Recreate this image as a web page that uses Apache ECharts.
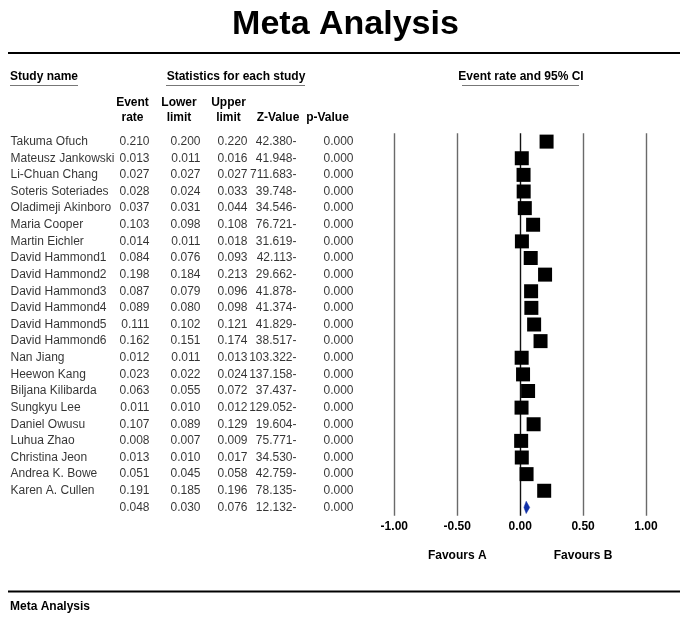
<!DOCTYPE html>
<html>
<head>
<meta charset="utf-8">
<script src="https://cdn.jsdelivr.net/npm/echarts@6/dist/echarts.min.js"></script>
<style>
html,body{margin:0;padding:0;background:#fff;}
#chart{width:688px;height:629px;}
</style>
</head>
<body>
<div id="chart"></div>
<script>
// ---- data ----
const studies = ["Takuma Ofuch","Mateusz Jankowski","Li-Chuan Chang","Soteris Soteriades","Oladimeji Akinboro","Maria Cooper","Martin Eichler","David Hammond1","David Hammond2","David Hammond3","David Hammond4","David Hammond5","David Hammond6","Nan Jiang","Heewon Kang","Biljana Kilibarda","Sungkyu Lee","Daniel Owusu","Luhua Zhao","Christina Jeon","Andrea K. Bowe","Karen A. Cullen"];
const eventRate = [0.210,0.013,0.027,0.028,0.037,0.103,0.014,0.084,0.198,0.087,0.089,0.111,0.162,0.012,0.023,0.063,0.011,0.107,0.008,0.013,0.051,0.191];
const lowerLimit = [0.200,0.011,0.027,0.024,0.031,0.098,0.011,0.076,0.184,0.079,0.080,0.102,0.151,0.011,0.022,0.055,0.010,0.089,0.007,0.010,0.045,0.185];
const upperLimit = [0.220,0.016,0.027,0.033,0.044,0.108,0.018,0.093,0.213,0.096,0.098,0.121,0.174,0.013,0.024,0.072,0.012,0.129,0.009,0.017,0.058,0.196];
const zValue = ["42.380-","41.948-","711.683-","39.748-","34.546-","76.721-","31.619-","42.113-","29.662-","41.878-","41.374-","41.829-","38.517-","103.322-","137.158-","37.437-","129.052-","19.604-","75.771-","34.530-","42.759-","78.135-"];
const pValue = ["0.000","0.000","0.000","0.000","0.000","0.000","0.000","0.000","0.000","0.000","0.000","0.000","0.000","0.000","0.000","0.000","0.000","0.000","0.000","0.000","0.000","0.000"];
const summaryRate = [0.048];
const summaryLower = [0.030];
const summaryUpper = [0.076];
const summaryZ = ["12.132-"];
const summaryP = ["0.000"];
const xTicks = [-1, -0.5, 0, 0.5, 1];
const favourLabels = ["Favours A", "Favours B"];
const favourAt = [-0.5, 0.5];
const titleText = "Meta Analysis";

// ---- layout/style ----
const FONT = "'Liberation Sans', Arial, Helvetica, sans-serif";
const rows = studies.concat([""]);
const summaryIdx = studies.length;
const gridTop = 133.3, gridH = 382.4;
const colName = 10, colRate = 150, colLower = 201, colUpper = 248, colZ = 297, colP = 354;

const chart = echarts.init(document.getElementById('chart'), null, {renderer: 'canvas'});

function textCol(name, x, values, summaryVals, align) {
  const data = values.map((v, i) => ({value: [x, i], txt: v}));
  if (summaryVals) data.push({value: [x, summaryIdx], txt: summaryVals[0]});
  return {
    type: 'scatter', name: name, xAxisIndex: 0, yAxisIndex: 0,
    symbolSize: 1, itemStyle: {color: 'transparent'}, silent: true,
    data: data,
    label: {
      show: true, position: align === 'left' ? 'right' : 'left', distance: 0,
      color: '#000', fontFamily: FONT, fontSize: 12,
      formatter: p => p.data.txt
    }
  };
}
const fmt3 = v => v.toFixed(3);

const headerStyle = {fontFamily: FONT, fontSize: 12, fontWeight: 'bold', fill: '#000'};

const option = {
  backgroundColor: '#fff',
  animation: false,
  grid: [
    {left: 0, width: 380, top: gridTop, height: gridH},
    {left: 394.3, width: 251.7, top: gridTop, height: gridH}
  ],
  xAxis: [
    {gridIndex: 0, type: 'value', min: 0, max: 380, show: false},
    {gridIndex: 1, type: 'value', min: xTicks[0], max: xTicks[xTicks.length - 1], interval: 0.5,
     axisLine: {show: false}, axisTick: {show: false},
     axisLabel: {fontFamily: FONT, fontSize: 12, fontWeight: 'bold', color: '#000', margin: 5,
                 formatter: v => v.toFixed(2)},
     splitLine: {show: true, lineStyle: {width: 1.4, color: ['#6a6a6a','#6a6a6a','#111','#6a6a6a','#6a6a6a']}}}
  ],
  yAxis: [
    {gridIndex: 0, type: 'category', data: rows, inverse: true, show: false},
    {gridIndex: 1, type: 'category', data: rows, inverse: true, show: false}
  ],
  series: [
    textCol('name', colName, studies, null, 'left'),
    textCol('rate', colRate, eventRate.map(fmt3), summaryRate.map(fmt3)),
    textCol('lower', colLower, lowerLimit.map(fmt3), summaryLower.map(fmt3)),
    textCol('upper', colUpper, upperLimit.map(fmt3), summaryUpper.map(fmt3)),
    textCol('z', colZ, zValue, summaryZ),
    textCol('p', colP, pValue, summaryP),
    {
      type: 'custom', name: 'ci', xAxisIndex: 1, yAxisIndex: 1, silent: true,
      data: studies.map((s, i) => [lowerLimit[i], upperLimit[i], i]),
      renderItem: (params, api) => {
        const a = api.coord([api.value(0), api.value(2)]);
        const b = api.coord([api.value(1), api.value(2)]);
        return {type: 'line', shape: {x1: a[0], y1: a[1], x2: b[0], y2: b[1]}, style: {stroke: '#000', lineWidth: 1}};
      },
      z: 3
    },
    {
      type: 'scatter', name: 'rate', xAxisIndex: 1, yAxisIndex: 1, silent: true,
      symbol: 'rect', symbolSize: 14, itemStyle: {color: '#000', opacity: 1},
      data: eventRate.map((v, i) => [v, i]), z: 4
    },
    {
      type: 'custom', name: 'summary', xAxisIndex: 1, yAxisIndex: 1, silent: true,
      data: summaryRate.map((v, i) => [summaryLower[i], v, summaryUpper[i], summaryIdx]),
      renderItem: (params, api) => {
        const l = api.coord([api.value(0), api.value(3)]);
        const m = api.coord([api.value(1), api.value(3)]);
        const r = api.coord([api.value(2), api.value(3)]);
        const h = 6.2;
        return {type: 'polygon', shape: {points: [[l[0], l[1]], [m[0], m[1] - h], [r[0], r[1]], [m[0], m[1] + h]]},
                style: {fill: '#1030a8', stroke: '#1030a8', lineWidth: 0.5}};
      },
      z: 4
    }
  ],
  graphic: [
    {type: 'text', x: 345.5, y: 24.5, style: {text: titleText, align: 'center', verticalAlign: 'middle', fontFamily: FONT, fontSize: 34, fontWeight: 'bold', fill: '#000'}},
    {type: 'line', shape: {x1: 8, y1: 53, x2: 680, y2: 53}, style: {stroke: '#000', lineWidth: 2.2}},
    {type: 'text', x: 10, y: 77, style: Object.assign({text: 'Study name', verticalAlign: 'middle'}, headerStyle)},
    {type: 'line', shape: {x1: 10, y1: 85.5, x2: 78, y2: 85.5}, style: {stroke: '#777', lineWidth: 1}},
    {type: 'text', x: 236, y: 77, style: Object.assign({text: 'Statistics for each study', align: 'center', verticalAlign: 'middle'}, headerStyle)},
    {type: 'line', shape: {x1: 166, y1: 85.5, x2: 305, y2: 85.5}, style: {stroke: '#777', lineWidth: 1}},
    {type: 'text', x: 521, y: 77, style: Object.assign({text: 'Event rate and 95% CI', align: 'center', verticalAlign: 'middle'}, headerStyle)},
    {type: 'line', shape: {x1: 462, y1: 85.5, x2: 579, y2: 85.5}, style: {stroke: '#777', lineWidth: 1}},
    {type: 'text', x: 132.5, y: 110, style: Object.assign({text: 'Event\nrate', align: 'center', verticalAlign: 'middle', lineHeight: 15}, headerStyle)},
    {type: 'text', x: 179, y: 110, style: Object.assign({text: 'Lower\nlimit', align: 'center', verticalAlign: 'middle', lineHeight: 15}, headerStyle)},
    {type: 'text', x: 228.5, y: 110, style: Object.assign({text: 'Upper\nlimit', align: 'center', verticalAlign: 'middle', lineHeight: 15}, headerStyle)},
    {type: 'text', x: 278, y: 117.5, style: Object.assign({text: 'Z-Value', align: 'center', verticalAlign: 'middle'}, headerStyle)},
    {type: 'text', x: 327.5, y: 117.5, style: Object.assign({text: 'p-Value', align: 'center', verticalAlign: 'middle'}, headerStyle)},
    {type: 'line', shape: {x1: 8, y1: 591.5, x2: 680, y2: 591.5}, style: {stroke: '#000', lineWidth: 2.2}},
    {type: 'text', x: 10, y: 607, style: Object.assign({text: titleText, verticalAlign: 'middle'}, headerStyle)}
  ]
};
chart.setOption(option);

// favours labels placed through the axis scale
const favG = favourLabels.map((t, i) => {
  const px = chart.convertToPixel({xAxisIndex: 1}, favourAt[i]);
  return {type: 'text', id: 'fav' + i, x: px, y: 556,
          style: Object.assign({text: t, align: 'center', verticalAlign: 'middle'}, headerStyle)};
});
chart.setOption({graphic: option.graphic.concat(favG)});
</script>
</body>
</html>
